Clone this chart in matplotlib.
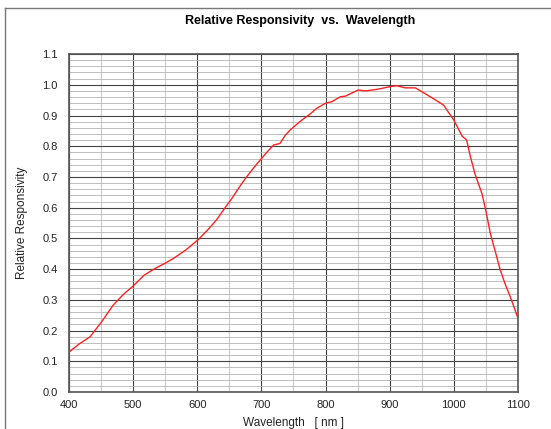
import matplotlib.pyplot as plt
from matplotlib.ticker import MultipleLocator
from matplotlib.lines import Line2D

plt.rcParams["font.family"] = ["Liberation Sans", "DejaVu Sans"]

# responsivity curve
wavelength = [400, 415, 433, 451, 469, 485, 500, 517, 534, 549, 563, 582, 602,
              616, 630, 642, 654, 665, 675, 690, 705, 719, 729, 737, 745, 760,
              776, 786, 800, 810, 823, 831, 840, 851, 862, 880, 901, 911, 924,
              940, 953, 968, 984, 1000, 1013, 1020, 1026, 1033, 1044, 1050,
              1057, 1065, 1072, 1080, 1088, 1095, 1100]
responsivity = [0.130, 0.155, 0.180, 0.229, 0.283, 0.318, 0.345, 0.380, 0.402,
                0.418, 0.435, 0.462, 0.497, 0.527, 0.560, 0.596, 0.630, 0.665,
                0.695, 0.735, 0.772, 0.804, 0.809, 0.835, 0.853, 0.880, 0.905,
                0.923, 0.940, 0.945, 0.961, 0.963, 0.972, 0.983, 0.980, 0.985,
                0.994, 0.997, 0.990, 0.990, 0.974, 0.955, 0.934, 0.885, 0.833,
                0.820, 0.765, 0.710, 0.645, 0.590, 0.516, 0.455, 0.400, 0.352,
                0.310, 0.270, 0.240]

x_ticks = [400, 500, 600, 700, 800, 900, 1000, 1100]
y_ticks = [0.0, 0.1, 0.2, 0.3, 0.4, 0.5, 0.6, 0.7, 0.8, 0.9, 1.0, 1.1]

fig = plt.figure(figsize=(5.51, 4.29), dpi=100)
ax = fig.add_axes([0.1252, 0.0862, 0.8148, 0.7878])

ax.plot(wavelength, responsivity, color="#ff2020", lw=1.0, zorder=3)

ax.set_xlim(400, 1100)
ax.set_ylim(0, 1.1)
ax.set_xticks(x_ticks)
ax.set_xticklabels([str(v) for v in x_ticks])
ax.set_yticks(y_ticks)
ax.set_yticklabels([f"{v:.1f}" for v in y_ticks])
ax.xaxis.set_minor_locator(MultipleLocator(50))
ax.yaxis.set_minor_locator(MultipleLocator(0.02))

ax.grid(which="major", color="#444444", lw=0.8)
ax.grid(which="minor", axis="y", color="#b4b4b4", lw=0.6)
ax.grid(which="minor", axis="x", color="#cccccc", lw=0.8)
ax.set_axisbelow(True)

ax.tick_params(which="both", length=0, labelsize=8, colors="#222222")
ax.tick_params(axis="x", pad=6)
ax.tick_params(axis="y", pad=8)
for s in ax.spines.values():
    s.set_color("#555555")
    s.set_linewidth(1.2)

ax.set_xlabel("Wavelength   [ nm ]", fontsize=8.5, color="#222222", labelpad=5)
ax.set_ylabel("Relative Responsivity", fontsize=8.5, color="#222222", labelpad=10)
fig.text(0.545, 0.950, "Relative Responsivity  vs.  Wavelength",
         ha="center", va="center", fontsize=9, fontweight="bold")

# frame lines (top and left) around the chart
fig.add_artist(Line2D([5 / 551, 1.0], [1 - 8 / 429, 1 - 8 / 429],
                      color="#777777", lw=1.0, transform=fig.transFigure))
fig.add_artist(Line2D([5 / 551, 5 / 551], [0, 1 - 8 / 429],
                      color="#777777", lw=1.0, transform=fig.transFigure))

fig.savefig("out.png", dpi=100)
